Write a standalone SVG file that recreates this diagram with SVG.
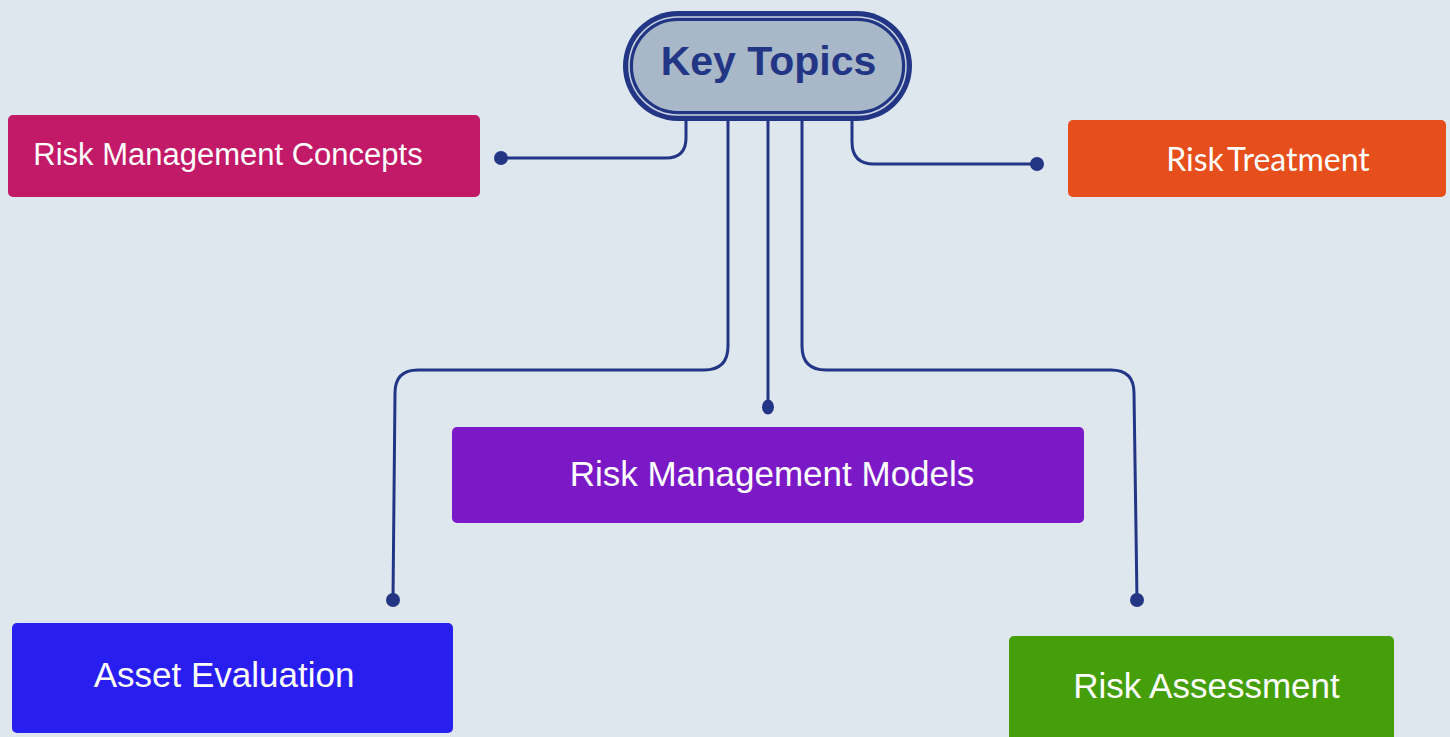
<svg xmlns="http://www.w3.org/2000/svg" width="1450" height="737" viewBox="0 0 1450 737">
<style>
.lbl{font-family:"Liberation Sans",Arial,sans-serif;fill:#ffffff;text-anchor:middle}
.conn{fill:none;stroke:#223685;stroke-width:3;stroke-linecap:round;stroke-linejoin:round}
.dot{fill:#223685}
</style>
<rect x="0" y="0" width="1450" height="737" fill="#dfe7ee"/>
<g id="connectors">
<path class="conn" d="M686,118 V138 Q686,158 666,158 H501"/>
<circle class="dot" cx="501" cy="158" r="7"/>
<path class="conn" d="M728,118 V346 Q728,370 704,370 H418 Q395,370 395,393 L393,600"/>
<circle class="dot" cx="393" cy="600" r="7"/>
<path class="conn" d="M768,118 V405"/>
<ellipse class="dot" cx="768" cy="407" rx="6" ry="7.5"/>
<path class="conn" d="M802,118 V346 Q802,370 826,370 H1111 Q1134,370 1134,393 L1137,600"/>
<circle class="dot" cx="1137" cy="600" r="7"/>
<path class="conn" d="M852,118 V142 Q852,164 874,164 H1037"/>
<circle class="dot" cx="1037" cy="164" r="7"/>
</g>
<g id="key-topics">
<rect x="623" y="11" width="289" height="110" rx="55" fill="#223685"/>
<rect x="629" y="17" width="277" height="98" rx="49" fill="none" stroke="#c9d4e0" stroke-width="1.5"/>
<rect x="632" y="20" width="271" height="92" rx="46" fill="#a8b8c8" stroke="#223685" stroke-width="2"/>
<text x="768.5" y="75" font-family="Liberation Sans,Arial,sans-serif" font-weight="bold" font-size="41" fill="#223685" text-anchor="middle">Key Topics</text>
</g>
<g id="risk-management-concepts">
<rect x="8" y="115" width="472" height="82" rx="5" fill="#c21a69"/>
<text class="lbl" x="228" y="165" font-size="31">Risk Management Concepts</text>
</g>
<g id="risk-treatment">
<rect x="1068" y="120" width="378" height="77" rx="5" fill="#e64e1b"/>
<text x="1268" y="171" font-family="Lato,'Open Sans',sans-serif" font-size="32" fill="#ffffff" text-anchor="middle" word-spacing="-4">Risk Treatment</text>
</g>
<g id="risk-management-models">
<rect x="452" y="427" width="632" height="96" rx="5" fill="#7b19c7"/>
<text class="lbl" x="772" y="486" font-size="35">Risk Management Models</text>
</g>
<g id="asset-evaluation">
<rect x="12" y="623" width="441" height="110" rx="5" fill="#281ef0"/>
<text class="lbl" x="224" y="687" font-size="35">Asset Evaluation</text>
</g>
<g id="risk-assessment">
<rect x="1009" y="636" width="385" height="110" rx="5" fill="#449f0b"/>
<text class="lbl" x="1206.5" y="698" font-size="35">Risk Assessment</text>
</g>
</svg>
